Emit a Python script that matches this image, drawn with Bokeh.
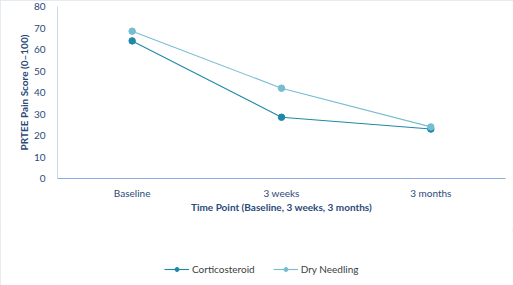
from bokeh.plotting import figure
from bokeh.layouts import column
from bokeh.models import FactorRange, Range1d, Legend, LegendItem, FixedTicker
from bokeh.embed import file_html
from bokeh.resources import INLINE

time_points = ["Baseline", "3 weeks", "3 months"]
corticosteroid = [64, 28.5, 23]
dry_needling = [68.5, 42, 24]
series_names = ["Corticosteroid", "Dry Needling"]
y_ticks = [0, 10, 20, 30, 40, 50, 60, 70, 80]

c_cort = "#1E88A8"
c_dry = "#76BDD3"
txt = "#2B4A78"
axis_c = "#8FAADC"

p = figure(width=513, height=230, x_range=FactorRange(*time_points),
           y_range=Range1d(0, 80), output_backend="svg", toolbar_location=None,
           min_border_left=57, min_border_right=8, min_border_top=6, min_border_bottom=52)
p.outline_line_color = None
p.xgrid.grid_line_color = None
p.ygrid.grid_line_color = None

p.line(time_points, corticosteroid, line_color=c_cort, line_width=1.1)
p.scatter(time_points, corticosteroid, size=6.5, fill_color=c_cort, line_color=c_cort)
p.line(time_points, dry_needling, line_color=c_dry, line_width=1.1)
p.scatter(time_points, dry_needling, size=6.5, fill_color=c_dry, line_color=c_dry)

p.yaxis.ticker = FixedTicker(ticks=y_ticks)
for ax in (p.xaxis[0], p.yaxis[0]):
    ax.major_label_text_font = "Lato"
    ax.major_label_text_font_size = "10px"
    ax.major_label_text_color = txt
    ax.axis_label_text_font = "Lato"
    ax.axis_label_text_font_size = "10px"
    ax.axis_label_text_font_style = "bold"
    ax.axis_label_text_color = txt
    ax.major_tick_line_color = None
    ax.minor_tick_line_color = None
    ax.axis_line_color = axis_c

p.yaxis.axis_line_color = "#C9D8F0"
p.xaxis.axis_label = "Time Point (Baseline, 3 weeks, 3 months)"
p.yaxis.axis_label = "PRTEE Pain Score (0\u2013100)"
p.xaxis.major_label_standoff = 2
p.xaxis.axis_label_standoff = -1
p.yaxis.major_label_standoff = 6
p.yaxis.axis_label_standoff = 1

# legend strip: same series, drawn outside its visible range
lf = figure(width=513, height=55, x_range=FactorRange(*time_points),
            y_range=Range1d(1000, 1001),
            output_backend="svg", toolbar_location=None,
            min_border=0, min_border_left=0, min_border_right=0,
            min_border_top=0, min_border_bottom=0,
            x_axis_location=None, y_axis_location=None)
lf.outline_line_color = None
lf.xgrid.grid_line_color = None
lf.ygrid.grid_line_color = None
d1 = lf.line(time_points, corticosteroid, line_color=c_cort, line_width=1.1)
e1 = lf.scatter(time_points, corticosteroid, size=6.5, fill_color=c_cort, line_color=c_cort)
d2 = lf.line(time_points, dry_needling, line_color=c_dry, line_width=1.1)
e2 = lf.scatter(time_points, dry_needling, size=6.5, fill_color=c_dry, line_color=c_dry)
legend = Legend(items=[LegendItem(label=series_names[0], renderers=[d1, e1]),
                       LegendItem(label=series_names[1], renderers=[d2, e2])],
                orientation="horizontal", location=(107, 10),
                label_text_font="Lato", label_text_font_size="10px",
                label_text_color="#404040", glyph_width=25, glyph_height=10,
                spacing=18, padding=0, label_standoff=3, margin=0,
                background_fill_alpha=0, border_line_color=None)
lf.add_layout(legend, "center")

layout = column(p, lf, spacing=0)
layout.styles = {"outline": "1px solid #DCE4EC", "outline-offset": "-1px"}

open("out.html", "w").write(file_html(layout, INLINE))
